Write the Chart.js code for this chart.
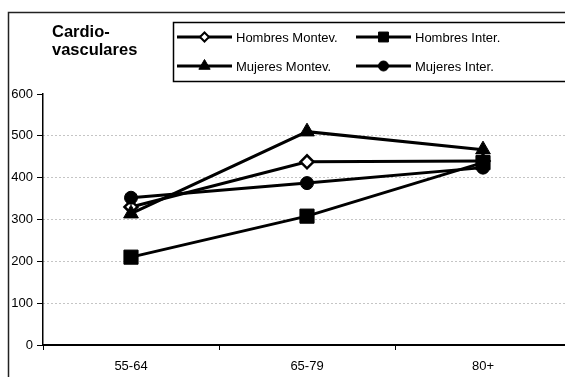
<!DOCTYPE html>
<html><head><meta charset="utf-8">
<script src="https://cdn.jsdelivr.net/npm/chart.js@4/dist/chart.umd.min.js"></script>
<style>html,body{margin:0;padding:0;background:#fff;overflow:hidden}#wrap{position:relative;width:565px;height:377px;overflow:hidden}canvas{display:block}</style>
</head><body><div id="wrap"><canvas id="c" width="582" height="377"></canvas></div>
<script>
const categories = ['55-64', '65-79', '80+'];
const hombresMontev = [330, 438, 440];
const hombresInter = [210, 308, 436];
const mujeresMontev = [314, 510, 467];
const mujeresInter = [352, 387, 424];
const yTicks = [0, 100, 200, 300, 400, 500, 600];
const titleLines = ['Cardio-', 'vasculares'];
const seriesLabels = ['Hombres Montev.', 'Hombres Inter.', 'Mujeres Montev.', 'Mujeres Inter.'];

const FONT = "'Liberation Sans', Arial, sans-serif";
Chart.defaults.font.family = FONT;
Chart.defaults.font.size = 13;
Chart.defaults.color = '#000';

const styles = [
  {pointStyle: 'rectRot', radius: 6.5, fill: '#fff', bw: 2.5, lr: 4.5, order: 4},
  {pointStyle: 'rect', radius: 10, fill: '#000', bw: 1, lr: 7, order: 3},
  {pointStyle: 'triangle', radius: 8.5, fill: '#000', bw: 1, lr: 6.5, order: 2},
  {pointStyle: 'circle', radius: 6.5, fill: '#000', bw: 1, lr: 5, order: 1},
];
const seriesData = [hombresMontev, hombresInter, mujeresMontev, mujeresInter];

const datasets = seriesData.map((d, i) => ({
  label: seriesLabels[i],
  data: d,
  order: styles[i].order,
  borderColor: '#000',
  borderWidth: 3,
  pointStyle: styles[i].pointStyle,
  pointRadius: styles[i].radius,
  pointBackgroundColor: styles[i].fill,
  pointBorderColor: '#000',
  pointBorderWidth: styles[i].bw,
  tension: 0,
  fill: false
}));

function drawMarker(ctx, style, x, y, r, fill, bw) {
  ctx.save();
  ctx.beginPath();
  if (style === 'rectRot') {
    ctx.moveTo(x - r, y); ctx.lineTo(x, y - r); ctx.lineTo(x + r, y); ctx.lineTo(x, y + r); ctx.closePath();
  } else if (style === 'rect') {
    const s = r * Math.SQRT1_2; ctx.rect(x - s, y - s, 2 * s, 2 * s);
  } else if (style === 'triangle') {
    const w = r * Math.sqrt(3) / 2;
    ctx.moveTo(x, y - r); ctx.lineTo(x + w, y + r / 2); ctx.lineTo(x - w, y + r / 2); ctx.closePath();
  } else {
    ctx.arc(x, y, r, 0, Math.PI * 2);
  }
  ctx.fillStyle = fill; ctx.fill();
  ctx.lineWidth = bw; ctx.strokeStyle = '#000'; ctx.stroke();
  ctx.restore();
}

const decor = {
  id: 'decor',
  afterDraw(chart) {
    const ctx = chart.ctx;
    ctx.save();
    ctx.strokeStyle = '#222'; ctx.lineWidth = 1.5;
    ctx.beginPath(); ctx.moveTo(8.5, 377); ctx.lineTo(8.5, 12.5); ctx.lineTo(582, 12.5); ctx.stroke();
    ctx.fillStyle = '#000'; ctx.font = 'bold 16.5px ' + FONT; ctx.textBaseline = 'alphabetic'; ctx.textAlign = 'left';
    ctx.fillText(titleLines[0], 52, 37);
    ctx.fillText(titleLines[1], 52, 55);
    ctx.lineWidth = 1.5; ctx.strokeStyle = '#000';
    ctx.strokeRect(173.5, 22.5, 420, 59);
    const pos = [[177, 37], [356, 37], [177, 66], [356, 66]];
    ctx.font = '13px ' + FONT; ctx.textBaseline = 'middle';
    seriesLabels.forEach((label, i) => {
      const [x, y] = pos[i];
      ctx.beginPath(); ctx.lineWidth = 3; ctx.strokeStyle = '#000';
      ctx.moveTo(x, y); ctx.lineTo(x + 55, y); ctx.stroke();
      drawMarker(ctx, styles[i].pointStyle, x + 27.5, y, styles[i].lr, styles[i].fill, i === 0 ? 2 : 1);
      ctx.fillStyle = '#000';
      ctx.fillText(label, x + 59, y + 1);
    });
    ctx.restore();
  }
};

new Chart(document.getElementById('c'), {
  type: 'line',
  data: {labels: categories, datasets},
  options: {
    responsive: false,
    animation: false,
    devicePixelRatio: 1,
    layout: {padding: {left: 0, right: 11, top: 94, bottom: 0}},
    plugins: {legend: {display: false}, title: {display: false}, tooltip: {enabled: false}},
    scales: {
      x: {
        type: 'category',
        offset: true,
        grid: {offset: true, drawOnChartArea: false, drawTicks: true, tickLength: 5, tickColor: '#000', tickWidth: 1},
        border: {display: true, color: '#000', width: 2},
        ticks: {padding: 9, font: {size: 13}, color: '#000', maxRotation: 0},
        afterFit: s => { s.height = 32; }
      },
      y: {
        min: yTicks[0],
        max: yTicks[yTicks.length - 1],
        afterBuildTicks: s => { s.ticks = yTicks.map(v => ({value: v})); },
        grid: {
          color: c => (c.tick && (c.tick.value === 0 || c.tick.value === 600)) ? 'rgba(0,0,0,0)' : '#8a8a8a',
          lineWidth: 1,
          drawTicks: true, tickLength: 6, tickColor: '#000', tickWidth: 1, tickBorderDash: []
        },
        border: {display: true, color: '#000', width: 1.5, dash: [1, 3]},
        ticks: {padding: 4, font: {size: 13}, color: '#000'},
        afterFit: s => { s.width = 43; }
      }
    }
  },
  plugins: [decor]
});
</script>
</body></html>
